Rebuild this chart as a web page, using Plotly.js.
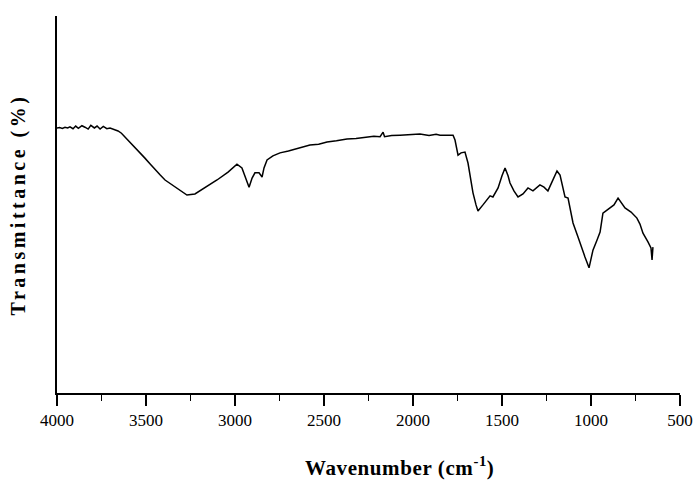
<!DOCTYPE html>
<html>
<head>
<meta charset="utf-8">
<script src="https://cdn.plot.ly/plotly-3.0.1.min.js"></script>
<style>
html,body{margin:0;padding:0;background:#fff;}
#chart{width:694px;height:484px;}
.ytitle{letter-spacing:3.5px;}
.annotation-text{letter-spacing:0.6px;}
</style>
</head>
<body>
<div id="chart"></div>
<script>
const wavenumber = [4000,3985,3970,3955,3940,3927,3910,3895,3880,3860,3843,3825,3810,3790,3775,3758,3740,3720,3702,3680,3657,3638,3618,3590,3562,3535,3506,3478,3449,3420,3393,3354,3309,3270,3225,3169,3101,3039,2989,2961,2938,2921,2904,2888,2865,2848,2837,2820,2787,2747,2700,2635,2579,2530,2483,2430,2371,2320,2270,2220,2185,2168,2160,2120,2073,2020,1961,1910,1870,1848,1800,1775,1764,1747,1730,1708,1691,1674,1663,1646,1635,1607,1579,1567,1551,1522,1500,1483,1466,1455,1433,1410,1382,1354,1326,1287,1264,1242,1219,1191,1174,1157,1146,1129,1101,1073,1051,1034,1011,989,966,949,933,893,871,848,826,809,775,742,725,708,680,663,657,652];
const transmittance = [70.3,70.4,70.2,70.5,70.3,70.6,70.1,70.8,70.2,70.9,70.5,70.0,71.0,70.3,70.8,70.0,70.7,70.1,70.3,69.9,69.5,68.9,67.9,66.6,65.3,63.8,62.3,60.8,59.2,57.8,56.5,55.2,53.6,52.5,52.8,54.4,56.5,58.6,60.7,59.7,56.5,54.6,57.0,58.4,58.4,57.3,59.7,61.8,62.9,63.7,64.2,65.0,65.8,66.0,66.6,66.9,67.4,67.5,67.9,68.1,68.0,69.2,68.0,68.3,68.4,68.5,68.7,68.3,68.6,68.4,68.5,68.4,67.1,63.1,63.7,63.9,61.0,56.5,53.1,49.9,48.3,49.9,51.5,52.3,52.0,54.4,57.6,59.7,57.6,55.7,53.6,52.0,52.8,54.4,53.6,55.2,54.6,53.6,56.0,58.9,57.8,53.8,52.0,51.7,45.1,41.4,38.7,36.1,33.2,37.9,40.6,42.7,47.7,49.1,49.9,51.7,50.4,49.1,48.0,46.4,44.8,42.4,40.1,38.5,35.3,38.7];
const xTickVals = [4000,3500,3000,2500,2000,1500,1000,500];
const xTickText = ['4000','3500','3000','2500','2000','1500','1000','500'];
const xTitle = 'Wavenumber (cm<sup>-1</sup>)';
const yTitle = 'Transmittance (%)';

const serif = 'Times New Roman, Liberation Serif, serif';
Plotly.newPlot('chart', [{
  x: wavenumber, y: transmittance, type: 'scatter', mode: 'lines',
  line: {color: '#000', width: 1.5}, hoverinfo: 'skip', showlegend: false
}], {
  width: 694, height: 484,
  margin: {l: 57, r: 14, t: 16, b: 91},
  paper_bgcolor: '#fff', plot_bgcolor: '#fff',
  xaxis: {
    range: [4000, 500], showgrid: false, zeroline: false,
    showline: true, linecolor: '#000', linewidth: 2,
    tickmode: 'array', tickvals: xTickVals, ticktext: xTickText,
    ticks: 'outside', ticklen: 11, tickwidth: 2, tickcolor: '#000',
    ticklabelstandoff: 0,
    minor: {ticks: 'outside', ticklen: 6, tickwidth: 1.5, tickcolor: '#000', dtick: 250, showgrid: false},
    tickfont: {family: serif, size: 17, color: '#000'}
  },
  yaxis: {
    range: [0, 100], showgrid: false, zeroline: false,
    showline: true, linecolor: '#000', linewidth: 2,
    ticks: '', showticklabels: false,
    title: {text: yTitle, standoff: 24,
      font: {family: serif, size: 20, color: '#000', weight: 'bold'}}
  },
  annotations: [{
    text: xTitle, xref: 'paper', yref: 'paper',
    x: 0.549, y: -0.195, xanchor: 'center', yanchor: 'middle', showarrow: false,
    font: {family: serif, size: 21, color: '#000', weight: 'bold'}
  }]
}, {displayModeBar: false, staticPlot: true});
</script>
</body>
</html>
